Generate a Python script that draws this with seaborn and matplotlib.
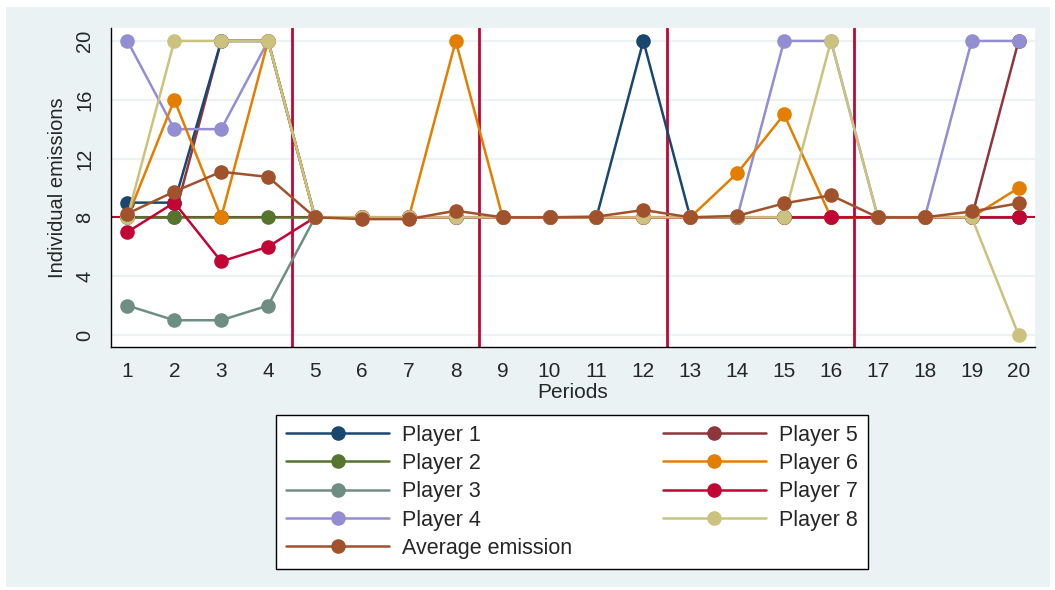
import pandas as pd
import matplotlib
matplotlib.use("Agg")
import matplotlib.pyplot as plt
import seaborn as sns
from matplotlib.patches import Rectangle

periods = list(range(1, 21))

player1 = [9, 9, 20, 20, 8, 8, 8, 8, 8, 8, 8, 20, 8, 8, 8, 8, 8, 8, 8, 8]
player2 = [8, 8, 8, 8, 8, 8, 8, 8, 8, 8, 8, 8, 8, 8, 8, 8, 8, 8, 8, 8]
player3 = [2, 1, 1, 2, 8, 8, 8, 8, 8, 8, 8, 8, 8, 8, 8, 8, 8, 8, 8, 8]
player4 = [20, 14, 14, 20, 8, 8, 8, 8, 8, 8, 8, 8, 8, 8, 20, 20, 8, 8, 20, 20]
player5 = [8, 8, 20, 20, 8, 8, 8, 8, 8, 8, 8, 8, 8, 8, 8, 8, 8, 8, 8, 20]
player6 = [8, 16, 8, 20, 8, 8, 8, 20, 8, 8, 8, 8, 8, 11, 15, 8, 8, 8, 8, 10]
player7 = [7, 9, 5, 6, 8, 8, 8, 8, 8, 8, 8, 8, 8, 8, 8, 8, 8, 8, 8, 8]
player8 = [8, 20, 20, 20, 8, 8, 8, 8, 8, 8, 8, 8, 8, 8, 8, 20, 8, 8, 8, 0]
average = [8.25, 9.75, 11.1, 10.75, 8.0, 7.88, 7.88, 8.45, 8.0, 8.0,
           8.05, 8.5, 8.0, 8.1, 8.95, 9.5, 8.0, 8.0, 8.4, 8.95]

series_names = ["Player 1", "Player 2", "Player 3", "Player 4", "Player 5",
                "Player 6", "Player 7", "Player 8", "Average emission"]
series_values = [player1, player2, player3, player4, player5,
                 player6, player7, player8, average]
colors = ["#1a476f", "#55752f", "#6e8e84", "#938dd2", "#90353b",
          "#e37e00", "#c10534", "#cac27e", "#a0522d"]
# drawing order (player 5 sits underneath the others)
layer = [3, 4, 5, 6, 2, 7, 8, 9, 10]
legend_order = ["Player 1", "Player 2", "Player 3", "Player 4", "Average emission",
                "Player 5", "Player 6", "Player 7", "Player 8"]
breaks = [4.5, 8.5, 12.5, 16.5]

rows = []
for name, vals in zip(series_names, series_values):
    for p, v in zip(periods, vals):
        rows.append({"series": name, "period": p, "emission": v})
df = pd.DataFrame(rows)

sns.set_style("white")
plt.rcParams["font.family"] = ["Liberation Sans", "DejaVu Sans"]

bg = "#eaf2f3"
fig = plt.figure(figsize=(10.55, 5.9), dpi=100, facecolor="white")
fig.patches.append(Rectangle((6 / 1055, 3 / 590), 1044 / 1055, 580 / 590,
                             transform=fig.transFigure, facecolor=bg,
                             edgecolor="none", zorder=-10))
ax = fig.add_axes([111 / 1055, 1 - 347 / 590, 924 / 1055, 319 / 590])
ax.set_facecolor("white")

# grid and reference lines
for t in range(0, 21, 4):
    ax.axhline(t, color=bg, lw=1.6, zorder=0)
ax.axhline(8, color="#c10534", lw=1.5, zorder=1)
for b in breaks:
    ax.axvline(b, color="#c10534", lw=2, zorder=1)

for name, col, z in zip(series_names, colors, layer):
    sub = df[df["series"] == name]
    sns.lineplot(data=sub, x="period", y="emission", color=col, marker="o",
                 markersize=10.5, markeredgewidth=0, linewidth=1.8,
                 label=name, ax=ax, zorder=z)

ax.set_xlim(0.65, 20.35)
ax.set_ylim(-0.82, 20.88)
ax.set_xticks(periods)
ax.set_yticks(range(0, 21, 4))
ax.tick_params(axis="x", labelsize=15, length=6, width=1, pad=5, direction="out")
ax.tick_params(axis="y", labelsize=14.5, length=6, width=1, pad=6, direction="out",
               labelrotation=90)
for lab in ax.get_yticklabels():
    lab.set_verticalalignment("center")
ax.set_xlabel("Periods", fontsize=15, labelpad=1)
ax.set_ylabel("Individual emissions", fontsize=14.5, labelpad=6)
for s in ["top", "right"]:
    ax.spines[s].set_visible(False)
for s in ["left", "bottom"]:
    ax.spines[s].set_color("black")
    ax.spines[s].set_linewidth(1)

handles, labels = ax.get_legend_handles_labels()
ax.get_legend().remove()
lookup = dict(zip(labels, handles))
leg = fig.legend([lookup[n] for n in legend_order], legend_order, ncol=2,
                 loc="upper center", bbox_to_anchor=(572 / 1055, 1 - 415 / 590),
                 bbox_transform=fig.transFigure, frameon=True, fancybox=False,
                 edgecolor="black", framealpha=1, fontsize=15.5,
                 handlelength=4.8, handletextpad=0.6, columnspacing=4.2,
                 labelspacing=0.34, borderpad=0.45, borderaxespad=0)
leg.get_frame().set_linewidth(1)

fig.savefig("out.png", dpi=100, facecolor="white")
